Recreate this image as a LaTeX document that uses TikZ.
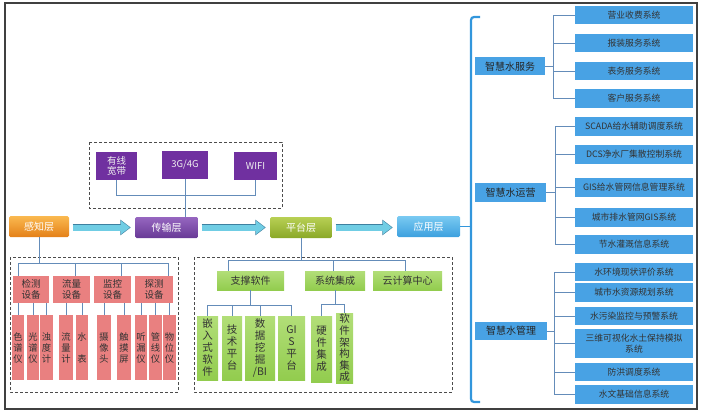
\documentclass[tikz,border=0pt]{standalone}
\usepackage{fontspec}
\setmainfont{Noto Sans CJK SC}
\usetikzlibrary{arrows.meta}

\definecolor{sensepink}{RGB}{233,128,128}
\definecolor{netpurple}{RGB}{112,48,160}
\definecolor{leafgreen}{RGB}{146,204,78}
\definecolor{leaflight}{RGB}{178,222,120}
\definecolor{appblue}{RGB}{72,162,228}
\definecolor{linkblue}{RGB}{100,140,185}
\definecolor{bracketblue}{RGB}{50,150,220}
\definecolor{flowcyan}{RGB}{112,205,228}
\definecolor{flowedge}{RGB}{62,128,160}
\definecolor{orangetop}{RGB}{250,185,80}
\definecolor{orangebot}{RGB}{228,128,24}
\definecolor{purpletop}{RGB}{150,102,192}
\definecolor{purplebot}{RGB}{104,58,150}
\definecolor{olivetop}{RGB}{184,208,84}
\definecolor{olivebot}{RGB}{138,168,40}
\definecolor{bluetop}{RGB}{122,202,242}
\definecolor{bluebot}{RGB}{60,160,222}

\begin{document}
\begin{tikzpicture}[x=1pt,y=-1pt]
  \tikzset{layer/.style = {rounded corners=1.5pt,text=white,font=\fontsize{10}{12}\selectfont,minimum height=21pt,inner sep=0pt}}
  \tikzset{flow/.style = {draw=flowcyan,line width=6pt,-{Triangle[length=9pt,width=13pt]},shorten <=4pt,shorten >=5pt,
      preaction={draw=flowedge,line width=7.5pt,-{Triangle[length=10.5pt,width=15pt]},shorten <=3.5pt,shorten >=4pt}}}
  \tikzset{group/.style = {draw=black!70,densely dashed,line width=0.7pt}}
  \tikzset{link/.style = {draw=linkblue,line width=0.8pt}}
  \tikzset{netbox/.style = {fill=netpurple,text=white!88!gray,font=\fontsize{9.5}{10.5}\selectfont,align=center,minimum height=28pt,inner sep=0pt}}
  \tikzset{sensecat/.style = {fill=sensepink,text=black!80,font=\fontsize{9.5}{10.5}\selectfont,align=center,minimum height=27pt,inner sep=0pt}}
  \tikzset{senseleaf/.style = {fill=sensepink,text=black!80,font=\fontsize{9.3}{11}\selectfont,align=center,minimum height=65pt,inner sep=0pt}}
  \tikzset{platcat/.style = {top color=leaflight,bottom color=leafgreen,text=black!80,font=\fontsize{10}{11}\selectfont,minimum height=19pt,inner sep=0pt}}
  \tikzset{platleaf/.style = {top color=leaflight,bottom color=leafgreen,text=black!80,font=\fontsize{10.5}{12}\selectfont,align=center,inner sep=0pt}}
  \tikzset{appcat/.style = {fill=appblue,text=black!85,font=\fontsize{10}{11}\selectfont,inner sep=0pt}}
  \tikzset{appitem/.style = {fill=appblue,text=black!80,font=\fontsize{8.8}{10}\selectfont,align=center,minimum width=118pt,minimum height=18.5pt,inner sep=0pt}}

  \useasboundingbox (0,0) rectangle (702,412);
  \draw[black!75,line width=1.4pt] (5,3) rectangle (697,409);

  % layers
  \node[layer,minimum width=60pt,top color=orangetop,bottom color=orangebot] (gz) at (39,226.5) {感知层};
  \node[layer,minimum width=63pt,top color=purpletop,bottom color=purplebot] (cs) at (166.5,227.5) {传输层};
  \node[layer,minimum width=62pt,top color=olivetop,bottom color=olivebot] (pt) at (301,227.5) {平台层};
  \node[layer,minimum width=63pt,top color=bluetop,bottom color=bluebot] (yy) at (428.5,226.5) {应用层};

  \draw[flow] (cs.west -| gz.east) -- (cs.west);
  \draw[flow] (cs.east) -- (cs.east -| pt.west);
  \draw[flow] (pt.east) -- (pt.east -| yy.west);

  % transport
  \draw[group] (89,142) rectangle (282,208);
  \node[netbox,minimum width=41pt] (yx) at (116.5,166) {有线\\宽带};
  \node[netbox,minimum width=46pt] (g34) at (185,165) {3G/4G};
  \node[netbox,minimum width=43pt] (wifi) at (255.5,166) {WIFI};
  \coordinate (netbus) at (0,195);
  \draw[link] (yx.south) |- (netbus -| wifi.south) -- (wifi.south);
  \draw[link] (g34.south) -- (g34.south |- cs.north);

  % sensing
  \draw[group] (10,257) rectangle (178,392);
  \node[sensecat,minimum width=36pt] (jc) at (31,289.5) {检测\\设备};
  \node[sensecat,minimum width=37pt] (ll) at (71.5,289.5) {流量\\设备};
  \node[sensecat,minimum width=37pt] (jk) at (112.5,289.5) {监控\\设备};
  \node[sensecat,minimum width=38pt] (tc) at (154,289.5) {探测\\设备};
  \coordinate (sensebus) at (0,263);
  \draw[link] (gz.south) -- (gz.south |- sensebus);
  \draw[link] ([xshift=-13pt]jc.north |- sensebus) -- ([xshift=14pt]tc.north |- sensebus);
  \foreach \cat/\dx in {jc/-13,ll/3.5,jk/8.5,tc/14}
    \draw[link] ([xshift=\dx pt]\cat.north |- sensebus) -- ([xshift=\dx pt]\cat.north);

  \foreach \name/\x/\w/\txt/\up in {sp/18/12.5/{色\\谱\\仪}/jc, gp/33/12/{光\\谱\\仪}/jc, zd/46.5/13/{浊\\度\\计}/jc,
      lj/66/14/{流\\量\\计}/ll, sb/82/12/{水\\~\\表}/ll, sx/104/14/{摄\\像\\头}/jk, cm/124/14/{触\\摸\\屏}/jk,
      tl/141/12/{听\\漏\\仪}/tc, gx/155.5/13/{管\\线\\仪}/tc, wy/169.5/13/{物\\位\\仪}/tc}
  {
    \node[senseleaf,minimum width=\w pt] (\name) at (\x,347.5) {\txt};
    \draw[link] (\up.south -| \name.north) -- (\name.north);
  }

  % platform
  \draw[group] (194,257) rectangle (452,392);
  \node[platcat,minimum width=67pt] (zc) at (250.5,280.5) {支撑软件};
  \node[platcat,minimum width=60pt] (xj) at (335,280.5) {系统集成};
  \node[platcat,minimum width=69pt] (yjs) at (407.5,280.5) {云计算中心};
  \coordinate (platbus) at (0,260);
  \draw[link] (pt.south) -- (pt.south |- platbus);
  \draw[link] ([xshift=-22.5pt]zc.north |- platbus) -- ([xshift=-2.5pt]yjs.north |- platbus);
  \foreach \cat/\dx in {zc/-22.5,xj/-2,yjs/-2.5}
    \draw[link] ([xshift=\dx pt]\cat.north |- platbus) -- ([xshift=\dx pt]\cat.north);

  \node[platleaf,minimum width=21pt,minimum height=64pt] (qrs) at (207.5,348) {嵌\\入\\式\\软\\件};
  \node[platleaf,minimum width=20pt,minimum height=64pt] (jspt) at (232,348) {技\\术\\平\\台};
  \node[platleaf,minimum width=30pt,minimum height=64pt] (sjwj) at (260,348) {数\\据\\挖\\掘\\/BI};
  \node[platleaf,minimum width=27pt,minimum height=64pt] (gis) at (291.5,348) {GI\\S\\平\\台};
  \node[platleaf,minimum width=21pt,minimum height=66pt] (yj) at (321.5,349) {硬\\件\\集\\成};
  \node[platleaf,minimum width=17pt,minimum height=70pt,font=\fontsize{10.5}{11.6}\selectfont] (rj) at (344.5,348) {软\\件\\架\\构\\集\\成};

  \coordinate (zcbus) at (0,305);
  \draw[link] (zc.south) -- (zc.south |- zcbus);
  \draw[link] (qrs.north |- zcbus) -- (gis.north |- zcbus);
  \foreach \leaf in {qrs,jspt,sjwj,gis}
    \draw[link] (\leaf.north |- zcbus) -- (\leaf.north);
  \coordinate (xjbus) at (0,304);
  \draw[link] (xj.south) -- (xj.south |- xjbus);
  \draw[link] (yj.north) |- (xjbus -| rj.north) -- (rj.north);

  % application
  \coordinate (brtop) at (471,17);
  \coordinate (brbot) at (471,402);
  \draw[draw=bracketblue,line width=2.2pt,rounded corners=3pt] ([xshift=9pt]brtop) -- (brtop) -- (brbot) -- ([xshift=9pt]brbot);
  \draw[link,draw=bracketblue,line width=1.2pt] (yy.east) -- (yy.east -| brtop);

  \node[appcat,minimum width=70pt,minimum height=18pt] (fw) at (510,66.5) {智慧水服务};
  \node[appcat,minimum width=71pt,minimum height=19pt] (yx2) at (510.5,192.5) {智慧水运营};
  \node[appcat,minimum width=72pt,minimum height=18pt] (gl) at (511,331) {智慧水管理};

  \foreach \name/\y/\txt in {s1/15/营业收费系统, s2/43/报装服务系统, s3/71/表务服务系统, s4/98.5/客户服务系统}
    \node[appitem] (\name) at (634,\y) {\txt};
  \foreach \name/\y/\txt in {o1/126.5/SCADA给水辅助调度系统, o2/154.5/DCS净水厂集散控制系统, o3/187.5/GIS给水管网信息管理系统,
      o4/217.5/城市排水管网GIS系统, o5/244.5/节水灌溉信息系统}
    \node[appitem] (\name) at (634,\y) {\txt};
  \foreach \name/\y/\txt in {m1/272/水环境现状评价系统, m2/292.5/城市水资源规划系统, m3/316/水污染监控与预警系统,
      m5/372/防洪调度系统, m6/394.5/水文基础信息系统}
    \node[appitem] (\name) at (634,\y) {\txt};
  \node[appitem,minimum height=29pt,font=\fontsize{8.8}{11}\selectfont] (m4) at (634,343.5) {三维可视化水土保持模拟\\系统};

  \coordinate (fwbus) at (553,0);
  \draw[link] (s1.west) -| (fwbus |- s4.west) -- (s4.west);
  \draw[link] (fw.east) -- (fw.east -| fwbus);
  \foreach \s in {s2,s3}
    \draw[link] (\s.west) -- (\s.west -| fwbus);

  \coordinate (yxbus) at (555,0);
  \draw[link] (o1.west) -| (yxbus |- o5.west) -- (o5.west);
  \draw[link] (yx2.east) -- (yx2.east -| yxbus);
  \foreach \s in {o2,o3,o4}
    \draw[link] (\s.west) -- (\s.west -| yxbus);

  \coordinate (glbus) at (554,0);
  \draw[link] (m1.west) -| (glbus |- m6.west) -- (m6.west);
  \draw[link] (gl.east) -- (gl.east -| glbus);
  \foreach \s in {m2,m3,m4,m5}
    \draw[link] (\s.west) -- (\s.west -| glbus);
\end{tikzpicture}
\end{document}
